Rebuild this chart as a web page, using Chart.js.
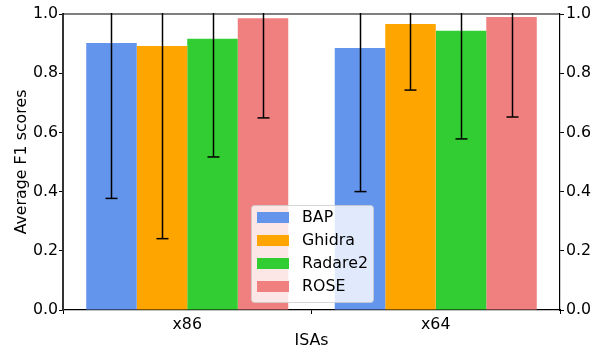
<!DOCTYPE html>
<html>
<head>
<meta charset="utf-8">
<script src="https://cdn.jsdelivr.net/npm/chart.js@4/dist/chart.umd.min.js"></script>
<style>
html,body{margin:0;padding:0;background:#fff;}
#wrap{width:602px;height:351px;position:relative;}
</style>
</head>
<body>
<div id="wrap"><canvas id="c" width="602" height="351"></canvas></div>
<script>
const categories = ['x86', 'x64'];
const seriesNames = ['BAP', 'Ghidra', 'Radare2', 'ROSE'];
const bapValues = [0.902, 0.885];
const ghidraValues = [0.892, 0.966];
const radare2Values = [0.916, 0.943];
const roseValues = [0.986, 0.990];
const bapErrors = [0.525, 0.485];
const ghidraErrors = [0.651, 0.223];
const radare2Errors = [0.399, 0.365];
const roseErrors = [0.337, 0.338];
const yTicks = [0.0, 0.2, 0.4, 0.6, 0.8, 1.0];

const colors = ['#6495ED', '#FFA500', '#32CD32', '#F08080'];
const values = [bapValues, ghidraValues, radare2Values, roseValues];
const errors = [bapErrors, ghidraErrors, radare2Errors, roseErrors];

const FONT = 'DejaVu Sans';
const FS = 15.8;

const errorBarPlugin = {
  id: 'errorBars',
  afterDatasetsDraw(chart) {
    const ctx = chart.ctx;
    const ys = chart.scales.y;
    const a = chart.chartArea;
    ctx.save();
    ctx.beginPath();
    ctx.rect(a.left, a.top - 1, a.right - a.left, a.bottom - a.top + 2);
    ctx.clip();
    ctx.strokeStyle = '#000';
    ctx.lineWidth = 1.5;
    chart.data.datasets.forEach((ds, di) => {
      const meta = chart.getDatasetMeta(di);
      meta.data.forEach((bar, i) => {
        const v = ds.data[i];
        const e = ds.errors[i];
        const x = Math.round(bar.x) + 0.5;
        const yLo = ys.getPixelForValue(v - e);
        const yHi = ys.getPixelForValue(v + e);
        ctx.beginPath();
        ctx.moveTo(x, yLo);
        ctx.lineTo(x, yHi);
        ctx.stroke();
        [yLo, yHi].forEach(yy => {
          if (yy >= a.top && yy <= a.bottom) {
            ctx.beginPath();
            ctx.moveTo(x - 6, yy);
            ctx.lineTo(x + 6, yy);
            ctx.stroke();
          }
        });
      });
    });
    ctx.restore();
  }
};

const framePlugin = {
  id: 'frame',
  afterDraw(chart) {
    const ctx = chart.ctx;
    const a = chart.chartArea;
    ctx.save();
    ctx.strokeStyle = '#000';
    ctx.lineWidth = 1.2;
    ctx.beginPath();
    ctx.moveTo(a.left, a.top);
    ctx.lineTo(a.right, a.top);
    ctx.stroke();
    ctx.restore();
  }
};

const legendPlugin = {
  id: 'customLegend',
  afterDraw(chart) {
    const ctx = chart.ctx;
    const x0 = 251, y0 = 205, w = 122, h = 97;
    ctx.save();
    ctx.fillStyle = 'rgba(255,255,255,0.8)';
    ctx.strokeStyle = 'rgba(204,204,204,0.8)';
    ctx.lineWidth = 1;
    ctx.beginPath();
    ctx.roundRect(x0 + 0.5, y0 + 0.5, w, h, 3);
    ctx.fill();
    ctx.stroke();
    ctx.font = FS + 'px "' + FONT + '"';
    ctx.textBaseline = 'middle';
    chart.data.datasets.forEach((ds, i) => {
      const cy = 217.5 + i * 23;
      ctx.fillStyle = ds.backgroundColor;
      ctx.fillRect(257, cy - 5.5, 32, 11);
      ctx.fillStyle = '#000';
      ctx.fillText(ds.label, 302, cy + 0.5);
    });
    ctx.restore();
  }
};

const datasets = seriesNames.map((name, i) => ({
  label: name,
  data: values[i],
  errors: errors[i],
  backgroundColor: colors[i],
  borderWidth: 0,
  categoryPercentage: 0.813,
  barPercentage: 1.0,
  yAxisID: 'y'
}));

new Chart(document.getElementById('c'), {
  type: 'bar',
  data: { labels: categories, datasets },
  options: {
    responsive: false,
    animation: false,
    layout: { padding: { top: 14, left: 0, right: 0, bottom: 0 } },
    plugins: { legend: { display: false }, tooltip: { enabled: false } },
    scales: {
      x: {
        offset: true,
        grid: { display: true, drawOnChartArea: false, drawTicks: true, tickLength: 4, tickColor: '#000', tickWidth: 1 },
        border: { display: true, color: '#000', width: 1.2 },
        ticks: { color: '#000', font: { family: FONT, size: FS }, padding: 1 },
        title: { display: true, text: 'ISAs', color: '#000', font: { family: FONT, size: FS }, padding: { top: 0, bottom: 1 } },
        afterFit(s) { s.height = 41; }
      },
      y: {
        position: 'left',
        min: 0, max: 1,
        afterBuildTicks(s) { s.ticks = yTicks.map(v => ({ value: v })); },
        grid: { display: true, drawOnChartArea: false, drawTicks: true, tickLength: 4, tickColor: '#000', tickWidth: 1 },
        border: { display: true, color: '#333', width: 2 },
        ticks: { color: '#000', font: { family: FONT, size: FS }, padding: 1, callback: v => Number(v).toFixed(1) },
        title: { display: true, text: 'Average F1 scores', color: '#000', font: { family: FONT, size: FS }, padding: { top: 12, bottom: 0 } },
        afterFit(s) { s.width = 63; }
      },
      y2: {
        position: 'right',
        min: 0, max: 1,
        afterBuildTicks(s) { s.ticks = yTicks.map(v => ({ value: v })); },
        grid: { display: true, drawOnChartArea: false, drawTicks: true, tickLength: 4, tickColor: '#000', tickWidth: 1 },
        border: { display: true, color: '#000', width: 1.2 },
        ticks: { color: '#000', font: { family: FONT, size: FS }, padding: 2, callback: v => Number(v).toFixed(1) },
        afterFit(s) { s.width = 42; }
      }
    }
  },
  plugins: [errorBarPlugin, framePlugin, legendPlugin]
});
</script>
</body>
</html>
